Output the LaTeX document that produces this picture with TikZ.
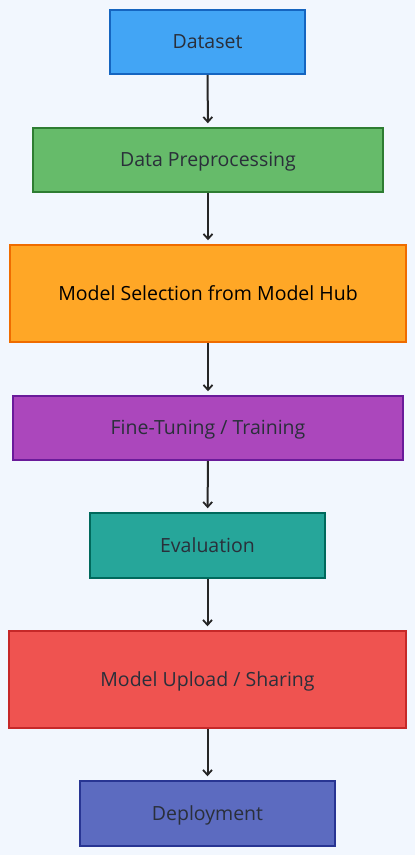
\documentclass[tikz,border=0pt]{standalone}
\usepackage{fontspec}
\setmainfont{Open Sans}
\usetikzlibrary{arrows.meta}
\definecolor{bg}{HTML}{F2F7FE}
\definecolor{txt}{HTML}{2A2F3A}
\definecolor{f1}{HTML}{42A5F5}\definecolor{d1}{HTML}{1565C0}
\definecolor{f2}{HTML}{66BB6A}\definecolor{d2}{HTML}{2E7D32}
\definecolor{f3}{HTML}{FFA726}\definecolor{d3}{HTML}{EF6C00}
\definecolor{f4}{HTML}{AB47BC}\definecolor{d4}{HTML}{6A1B9A}
\definecolor{f5}{HTML}{26A69A}\definecolor{d5}{HTML}{00695C}
\definecolor{f6}{HTML}{EF5350}\definecolor{d6}{HTML}{C62828}
\definecolor{f7}{HTML}{5C6BC0}\definecolor{d7}{HTML}{283593}
\tikzset{
  stepbox/.style={draw, line width=1.5pt, rectangle, inner sep=0pt, text=txt, text height=13.9pt, text depth=0pt, font=\fontsize{19.5}{23}\selectfont},
  flow/.style={draw=black!85, line width=2pt, -{Straight Barb[length=5pt,width=9pt,line width=1.8pt]}, shorten >=4pt}
}
\begin{document}
\begin{tikzpicture}[x=1pt,y=-1pt]
\fill[bg] (0,0) rectangle (415,855);
\useasboundingbox (0,0) rectangle (415,855);
\node[stepbox, fill=f1, draw=d1, minimum width=195pt, minimum height=64pt] (a) at (207.5,42) {Dataset};
\node[stepbox, fill=f2, draw=d2, minimum width=350pt, minimum height=64pt] (b) at (208,160) {Data Preprocessing};
\node[stepbox, fill=f3, draw=d3, minimum width=396pt, minimum height=97pt, text=black] (c) at (208,293.5) {Model Selection from Model Hub};
\node[stepbox, fill=f4, draw=d4, minimum width=390pt, minimum height=64pt] (d) at (208,428) {Fine-Tuning / Training};
\node[stepbox, fill=f5, draw=d5, minimum width=235pt, minimum height=65pt] (e) at (207.5,545.5) {Evaluation};
\node[stepbox, fill=f6, draw=d6, minimum width=397pt, minimum height=97pt] (f) at (207.5,679.5) {Model Upload / Sharing};
\node[stepbox, fill=f7, draw=d7, minimum width=255pt, minimum height=65pt] (g) at (207.5,813.5) {Deployment};
\draw[flow] (a) -- (b);
\draw[flow] (b) -- (c);
\draw[flow] (c) -- (d);
\draw[flow] (d) -- (e);
\draw[flow] (e) -- (f);
\draw[flow] (f) -- (g);
\end{tikzpicture}
\end{document}
